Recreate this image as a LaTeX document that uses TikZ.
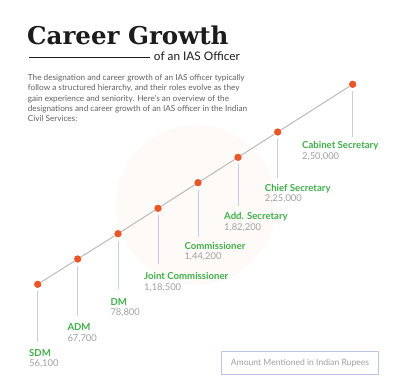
\documentclass[tikz,border=0pt]{standalone}
\usepackage{fontspec}
\setmainfont{Lato}
\newfontfamily\titlefont{DejaVu Serif}
\definecolor{dotc}{HTML}{E8562A}
\definecolor{linec}{HTML}{B5B5B5}
\definecolor{vlinec}{HTML}{C5CDE2}
\definecolor{greenc}{HTML}{3FAE49}
\definecolor{valc}{HTML}{A0A0A0}
\definecolor{parac}{HTML}{606060}
\definecolor{titlec}{HTML}{1C1C1C}
\definecolor{boxc}{HTML}{BCC6E2}
\definecolor{wmc}{HTML}{FEFAF8}
\tikzset{
  dot/.style={circle,fill=dotc,inner sep=0pt,minimum size=7pt},
  vline/.style={draw=vlinec,line width=1pt},
  rank/.style={anchor=base west,inner sep=0pt,font=\bfseries\fontsize{9.6}{11}\selectfont,text=greenc},
  pay/.style={anchor=base west,inner sep=0pt,font=\fontsize{9.4}{11}\selectfont,text=valc},
  para/.style={anchor=base west,inner sep=0pt,font=\fontsize{8.2}{10}\selectfont,text=parac}
}
\begin{document}
\begin{tikzpicture}[x=1pt,y=-1pt]
\useasboundingbox (0,0) rectangle (403,389);
\fill[white] (0,0) rectangle (403,389);
% watermark
\fill[wmc] (196,205) circle (80);
% title
\node[anchor=base west,inner sep=0pt,text=titlec,font=\titlefont\bfseries\fontsize{24.5}{28}\selectfont] (title) at (27,44.3) {Career Growth};
\node[anchor=base east,inner sep=0pt,text=titlec,font=\fontsize{11.8}{14}\selectfont] (sub) at (240,60.7) {of an IAS Officer};
\coordinate (rule) at (29,57.7);
\draw[line width=1pt,titlec] (rule) -- ([xshift=-4pt]sub.west |- rule);
% paragraph
\node[para] (p1) at (27.7,80.3) {The designation and career growth of an IAS officer typically};
\node[para] (p2) at (27.7,90.7) {follow a structured hierarchy, and their roles evolve as they};
\node[para] (p3) at (27.7,101.0) {gain experience and seniority. Here's an overview of the};
\node[para] (p4) at (27.7,111.4) {designations and career growth of an IAS officer in the Indian};
\node[para] (p5) at (27.7,121.7) {Civil Services:};
% dots
\node[dot] (d1) at (37.7,284.3) {};
\node[dot] (d2) at (77.7,259) {};
\node[dot] (d3) at (118,233.7) {};
\node[dot] (d4) at (158,208.3) {};
\node[dot] (d5) at (198,182.7) {};
\node[dot] (d6) at (238,157.3) {};
\node[dot] (d7) at (277.7,132) {};
\node[dot] (d8) at (352.7,84.3) {};
% labels
\node[rank] (l1) at (29,356) {SDM};
\node[pay] (v1) at (29,366.9) {56,100};
\node[rank] (l2) at (67.3,330.4) {ADM};
\node[pay] (v2) at (67.3,341.3) {67,700};
\node[rank] (l3) at (110.3,305) {DM};
\node[pay] (v3) at (110.3,315.9) {78,800};
\node[rank] (l4) at (144,279.4) {Joint Commissioner};
\node[pay] (v4) at (144,290.3) {1,18,500};
\node[rank] (l5) at (184.3,249) {Commissioner};
\node[pay] (v5) at (184.3,259.9) {1,44,200};
\node[rank] (l6) at (224,219.7) {Add. Secretary};
\node[pay] (v6) at (224,230.6) {1,82,200};
\node[rank] (l7) at (264.7,191) {Chief Secretary};
\node[pay] (v7) at (264.7,201.9) {2,25,000};
\node[rank] (l8) at (302,148.7) {Cabinet Secretary};
\node[pay] (v8) at (302,159.6) {2,50,000};
% vertical connector ends
\coordinate (e1) at (0,341.7);
\coordinate (e2) at (0,316);
\coordinate (e3) at (0,289.3);
\coordinate (e4) at (0,264);
\coordinate (e5) at (0,236.7);
\coordinate (e6) at (0,206);
\coordinate (e7) at (0,178.3);
\coordinate (e8) at (0,136.7);
\foreach \i in {1,...,8}{
  \draw[vline,shorten <=7pt] (d\i.center) -- (d\i |- e\i);
}
% main line
\draw[linec,line width=0.9pt] (d1) -- (d2) -- (d3) -- (d4) -- (d5) -- (d6) -- (d7) -- (d8);
\foreach \i in {1,...,8}{ \node[dot] at (d\i) {}; }
% note box
\node[draw=boxc,line width=0.9pt,minimum width=156.6pt,minimum height=22.3pt,inner sep=0pt,text=valc,font=\fontsize{8.6}{10}\selectfont] (note) at (300,362.8) {Amount Mentioned in Indian Rupees};
\end{tikzpicture}
\end{document}
